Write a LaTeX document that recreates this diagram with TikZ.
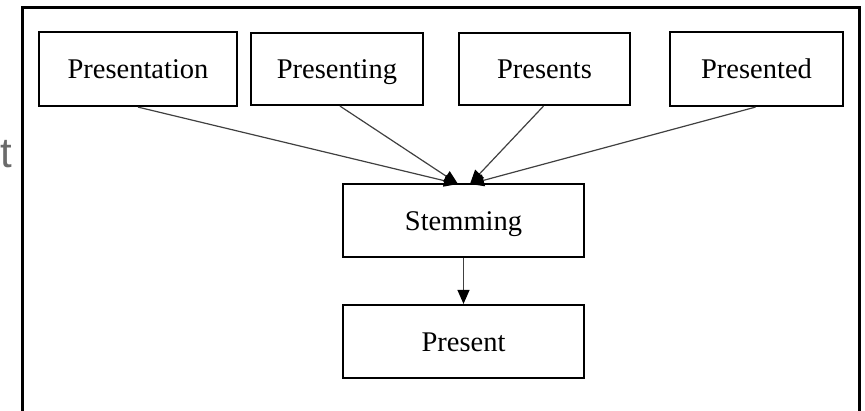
\documentclass[tikz,border=0pt]{standalone}
\usepackage{fontspec}
\setmainfont{Liberation Serif}
\newfontfamily\grayfont{Liberation Sans}
\usetikzlibrary{arrows.meta}
\tikzset{
  wordbox/.style={draw=black, line width=2.2pt, rectangle, inner sep=0pt,
    text height=19.5pt, text depth=0pt,
    font=\fontsize{28.5}{34}\selectfont},
  conn/.style={draw=black!75, line width=1.2pt,
    -{Triangle[length=14pt,width=12pt,fill=black,color=black]}},
  frameline/.style={draw=black, line width=3pt}
}
\begin{document}
\begin{tikzpicture}[x=1pt,y=-1pt]
\useasboundingbox (0,0) rectangle (865,411);
\draw[frameline] (22,413) -- (22,8) -- (859,8) -- (859,413);
\node[anchor=east, text=black!58, font=\grayfont\fontsize{42}{48}\selectfont, inner sep=0pt] (frag) at (12,154) {t};
\node[wordbox, minimum width=198pt, minimum height=74pt] (pn) at (138,69) {Presentation};
\node[wordbox, minimum width=172pt, minimum height=72pt] (pg) at (337,69) {Presenting};
\node[wordbox, minimum width=171pt, minimum height=72pt] (ps) at (544.5,69) {Presents};
\node[wordbox, minimum width=173pt, minimum height=74pt] (pd) at (756.5,69) {Presented};
\node[wordbox, minimum width=241pt, minimum height=73pt] (st) at (463.5,220.5) {Stemming};
\node[wordbox, minimum width=241pt, minimum height=73pt] (pr) at (463.5,341.5) {Present};
\coordinate (ta) at (458,184);
\coordinate (tb) at (470,184);
\draw[conn] (pn.south) -- (ta);
\draw[conn] ([xshift=3pt]pg.south) -- (ta);
\draw[conn] ([xshift=-1pt]ps.south) -- (tb);
\draw[conn] ([xshift=-1pt]pd.south) -- (tb);
\draw[conn] (st) -- (pr);
\end{tikzpicture}
\end{document}
